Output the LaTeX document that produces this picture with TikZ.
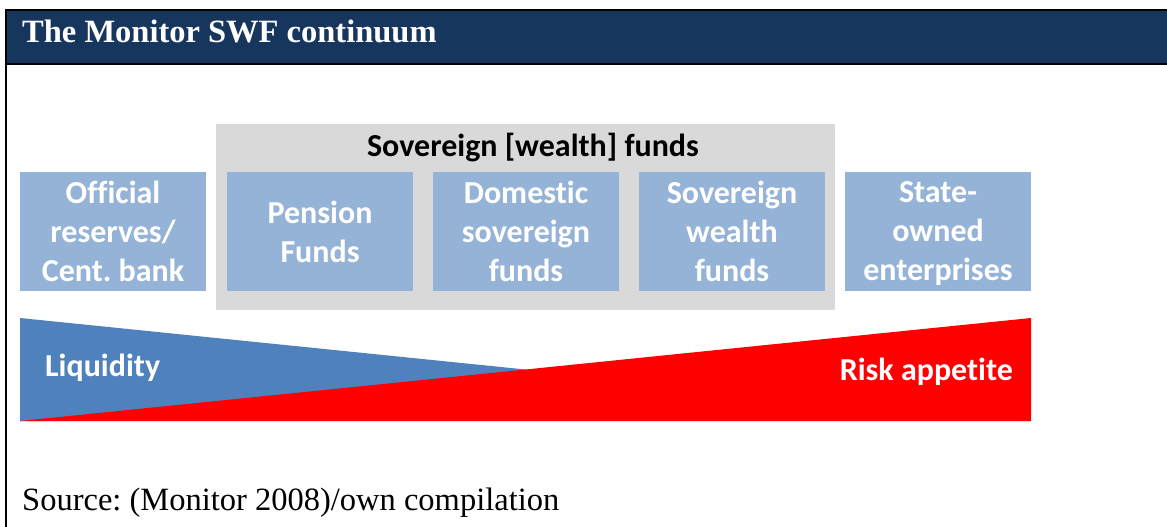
\documentclass[tikz,border=0pt]{standalone}
\usepackage{fontspec}
\setmainfont{Liberation Serif}
\newfontfamily\calfont[Ligatures=NoCommon]{Carlito}
\definecolor{hdr}{HTML}{17365D}
\definecolor{boxblue}{HTML}{95B3D7}
\definecolor{liqblue}{HTML}{4F81BD}
\definecolor{grayfill}{HTML}{D9D9D9}
\definecolor{riskred}{HTML}{FF0000}
\frenchspacing
\begin{document}
\begin{tikzpicture}[x=1pt,y=-1pt,
  catbox/.style={fill=boxblue, minimum width=186pt, minimum height=119pt, inner sep=0pt,
    text=white, align=center, text depth=0pt, font=\calfont\bfseries\fontsize{32}{39}\selectfont},
  caltext/.style={inner sep=0pt, font=\calfont\bfseries\fontsize{32}{39}\selectfont},
  frameline/.style={line width=2pt, black}]
\useasboundingbox (0,0) rectangle (1167,527);
% header
\fill[hdr] (5.5,10) rectangle (1167,64);
\draw[frameline] (1167,10) -- (5.5,10) -- (5.5,527);
\draw[frameline] (5.5,64) -- (1167,64);
\node[anchor=base west, inner sep=0pt, text=white,
  font=\bfseries\fontsize{32.5}{39}\selectfont] (title) at (22,43) {The Monitor SWF continuum};
% grey group
\node[fill=grayfill, minimum width=619pt, minimum height=186pt, inner sep=0pt] (group) at (525.5,217) {};
\node[caltext, anchor=base, text=black] (grouplabel) at (533,156) {Sovereign [wealth] funds};
% category boxes
\node[catbox] (reserves) at (113,231.5) {Official\\reserves/\\Cent. bank};
\node[catbox] (pension) at (320,231.5) {Pension\\Funds};
\node[catbox] (domestic) at (526,231.5) {Domestic\\sovereign\\funds};
\node[catbox] (swf) at (732,231.5) {Sovereign\\wealth\\funds};
\node[catbox] (soe) at (938,231.5) {State-\\owned\\enterprises};
% wedges
\coordinate (tl) at (20,318);
\coordinate (bl) at (20,421);
\coordinate (br) at (1031,421);
\coordinate (tr) at (1031,318);
\fill[liqblue] (tl) -- (bl) -- (br) -- cycle;
\fill[riskred] (bl) -- (br) -- (tr) -- cycle;
\node[caltext, anchor=base west, text=white] (liq) at (45,376) {Liquidity};
\node[caltext, anchor=base east, text=white] (risk) at (1013,380) {Risk appetite};
% source
\node[anchor=base west, inner sep=0pt, font=\fontsize{32.5}{40}\selectfont] (source) at (22,510) {Source: (Monitor 2008)/own compilation};
\end{tikzpicture}
\end{document}
